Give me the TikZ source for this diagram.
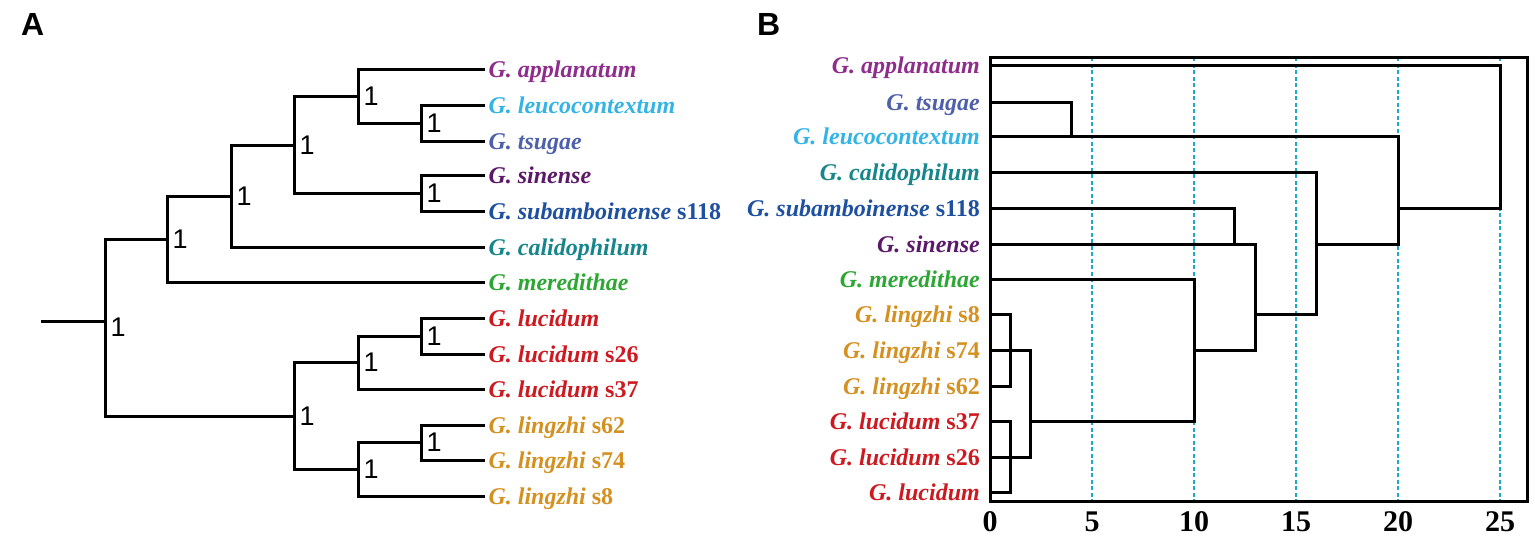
\documentclass[tikz,border=0pt]{standalone}
\usepackage{fontspec}
\setmainfont{Liberation Serif}
\newfontfamily\headsans{Liberation Sans}
\definecolor{cApp}{RGB}{142,45,140}
\definecolor{cLeu}{RGB}{52,180,228}
\definecolor{cTsu}{RGB}{78,96,170}
\definecolor{cSin}{RGB}{92,24,104}
\definecolor{cSub}{RGB}{30,80,160}
\definecolor{cCal}{RGB}{22,134,140}
\definecolor{cMer}{RGB}{46,166,52}
\definecolor{cLuc}{RGB}{204,26,32}
\definecolor{cLin}{RGB}{212,144,32}
\definecolor{cDash}{RGB}{28,170,200}
\tikzset{
  branch/.style={line width=3pt},
  taxon/.style={font=\bfseries\fontsize{24}{26}\selectfont, inner ysep=0pt, text height=16pt, text depth=0pt},
  boot/.style={font=\headsans\fontsize{27}{27}\selectfont, label distance=2pt},
  panel/.style={font=\headsans\bfseries\fontsize{32}{32}\selectfont, inner sep=0pt, anchor=base west},
  distline/.style={line width=2.5pt, draw=cDash, dash pattern=on 4pt off 2.5pt},
  tick/.style={font=\bfseries\fontsize{30}{30}\selectfont, inner sep=0pt, text height=20pt, text depth=0pt}
}
\begin{document}
\begin{tikzpicture}[x=1pt,y=-1pt]
  \useasboundingbox (0,0) rectangle (1535,539);
  \node[panel] (pA) at (21,35) {A};
  \node[panel] (pB) at (757,35) {B};

  \node[taxon,anchor=west,text=cApp] (aApp) at (485,69.3) {\textit{G. applanatum}};
  \node[taxon,anchor=west,text=cLeu] (aLeu) at (485,105.3) {\textit{G. leucocontextum}};
  \node[taxon,anchor=west,text=cTsu] (aTsu) at (485,141) {\textit{G. tsugae}};
  \node[taxon,anchor=west,text=cSin] (aSin) at (485,175.7) {\textit{G. sinense}};
  \node[taxon,anchor=west,text=cSub] (aSub) at (485,211.7) {\textit{G. subamboinense} s118};
  \node[taxon,anchor=west,text=cCal] (aCal) at (485,247.3) {\textit{G. calidophilum}};
  \node[taxon,anchor=west,text=cMer] (aMer) at (485,282.7) {\textit{G. meredithae}};
  \node[taxon,anchor=west,text=cLuc] (aLuc) at (485,318.7) {\textit{G. lucidum}};
  \node[taxon,anchor=west,text=cLuc] (aL26) at (485,354) {\textit{G. lucidum} s26};
  \node[taxon,anchor=west,text=cLuc] (aL37) at (485,389.3) {\textit{G. lucidum} s37};
  \node[taxon,anchor=west,text=cLin] (aZ62) at (485,425) {\textit{G. lingzhi} s62};
  \node[taxon,anchor=west,text=cLin] (aZ74) at (485,460.3) {\textit{G. lingzhi} s74};
  \node[taxon,anchor=west,text=cLin] (aZ8) at (485,496.3) {\textit{G. lingzhi} s8};

  \coordinate[label={[boot]right:1}] (a1) at (421,123.2);
  \coordinate[label={[boot]right:1}] (a2) at (421,193.7);
  \coordinate[label={[boot]right:1}] (a3) at (358,96.2);
  \coordinate[label={[boot]right:1}] (a4) at (294,145);
  \coordinate[label={[boot]right:1}] (a5) at (231,196.2);
  \coordinate[label={[boot]right:1}] (a6) at (167,239.4);
  \coordinate[label={[boot]right:1}] (a7) at (421,336.4);
  \coordinate[label={[boot]right:1}] (a8) at (358,362.6);
  \coordinate[label={[boot]right:1}] (a9) at (421,442.7);
  \coordinate[label={[boot]right:1}] (a10) at (358,469.5);
  \coordinate[label={[boot]right:1}] (a11) at (294,416);
  \coordinate[label={[boot,yshift=-6.5pt]right:1}] (aRoot) at (105,321);
  \coordinate (aStem) at (41,321);

  \draw[branch] (aLeu.west) -| (a1) |- (aTsu.west);
  \draw[branch] (aSin.west) -| (a2) |- (aSub.west);
  \draw[branch] (aApp.west) -| (a3) |- (a1);
  \draw[branch] (a3) -| (a4) |- (a2);
  \draw[branch] (a4) -| (a5) |- (aCal.west);
  \draw[branch] (a5) -| (a6) |- (aMer.west);
  \draw[branch] (aLuc.west) -| (a7) |- (aL26.west);
  \draw[branch] (a7) -| (a8) |- (aL37.west);
  \draw[branch] (aZ62.west) -| (a9) |- (aZ74.west);
  \draw[branch] (a9) -| (a10) |- (aZ8.west);
  \draw[branch] (a8) -| (a11) |- (a10);
  \draw[branch] (a6) -| (aRoot) |- (a11);
  \draw[branch] (aStem) -- (aRoot);

  \begin{scope}[xshift=990pt,x=20.4pt]
    \draw[distline] (5,57.3) -- (5,501.7);
    \draw[distline] (10,57.3) -- (10,501.7);
    \draw[distline] (15,57.3) -- (15,501.7);
    \draw[distline] (20,57.3) -- (20,501.7);
    \draw[distline] (25,57.3) -- (25,501.7);
    \draw[branch] (0,57.3) rectangle (26.37,501.7);

    \node[taxon,anchor=east,inner xsep=10pt,text=cApp] (bApp) at (0,65.7) {\textit{G. applanatum}};
    \node[taxon,anchor=east,inner xsep=10pt,text=cTsu] (bTsu) at (0,102) {\textit{G. tsugae}};
    \node[taxon,anchor=east,inner xsep=10pt,text=cLeu] (bLeu) at (0,136.7) {\textit{G. leucocontextum}\hspace{6pt}};
    \node[taxon,anchor=east,inner xsep=10pt,text=cCal] (bCal) at (0,172.3) {\textit{G. calidophilum}};
    \node[taxon,anchor=east,inner xsep=10pt,text=cSub] (bSub) at (0,208.3) {\textit{G. subamboinense} s118};
    \node[taxon,anchor=east,inner xsep=10pt,text=cSin] (bSin) at (0,244.3) {\textit{G. sinense}};
    \node[taxon,anchor=east,inner xsep=10pt,text=cMer] (bMer) at (0,279.3) {\textit{G. meredithae}};
    \node[taxon,anchor=east,inner xsep=10pt,text=cLin] (bZ8) at (0,314.7) {\textit{G. lingzhi} s8};
    \node[taxon,anchor=east,inner xsep=10pt,text=cLin] (bZ74) at (0,350.3) {\textit{G. lingzhi} s74};
    \node[taxon,anchor=east,inner xsep=10pt,text=cLin] (bZ62) at (0,386) {\textit{G. lingzhi} s62};
    \node[taxon,anchor=east,inner xsep=10pt,text=cLuc] (bL37) at (0,421.7) {\textit{G. lucidum} s37};
    \node[taxon,anchor=east,inner xsep=10pt,text=cLuc] (bL26) at (0,457.3) {\textit{G. lucidum} s26};
    \node[taxon,anchor=east,inner xsep=10pt,text=cLuc] (bLuc) at (0,492.7) {\textit{G. lucidum}};

    \coordinate (bZ) at (1,350.3);
    \coordinate (bL) at (1,457.3);
    \coordinate (bZL) at (2,421.7);
    \coordinate (bTL) at (4,136.7);
    \coordinate (bM) at (10,350.3);
    \coordinate (bSS) at (12,244.3);
    \coordinate (b13) at (13,314.7);
    \coordinate (b16) at (16,244.3);
    \coordinate (b20) at (20,208.3);
    \coordinate (b25) at (25,137);

    \draw[branch] (bZ8.east) -| (bZ) |- (bZ62.east);
    \draw[branch] (bZ74.east) -- (bZ);
    \draw[branch] (bL37.east) -| (bL) |- (bLuc.east);
    \draw[branch] (bL26.east) -- (bL);
    \draw[branch] (bZ) -| (bZL) |- (bL);
    \draw[branch] (bTsu.east) -| (bTL) -- (bLeu.east);
    \draw[branch] (bMer.east) -| (bM) |- (bZL);
    \draw[branch] (bSub.east) -| (bSS) -- (bSin.east);
    \draw[branch] (bSS) -| (b13) |- (bM);
    \draw[branch] (bCal.east) -| (b16) |- (b13);
    \draw[branch] (bTL) -| (b20) |- (b16);
    \draw[branch] (bApp.east) -| (b25) |- (b20);

    \node[tick,below=9.5pt] (t0) at (0,501.7) {0};
    \node[tick,below=9.5pt] (t5) at (5,501.7) {5};
    \node[tick,below=9.5pt] (t10) at (10,501.7) {10};
    \node[tick,below=9.5pt] (t15) at (15,501.7) {15};
    \node[tick,below=9.5pt] (t20) at (20,501.7) {20};
    \node[tick,below=9.5pt] (t25) at (25,501.7) {25};
  \end{scope}
\end{tikzpicture}
\end{document}
